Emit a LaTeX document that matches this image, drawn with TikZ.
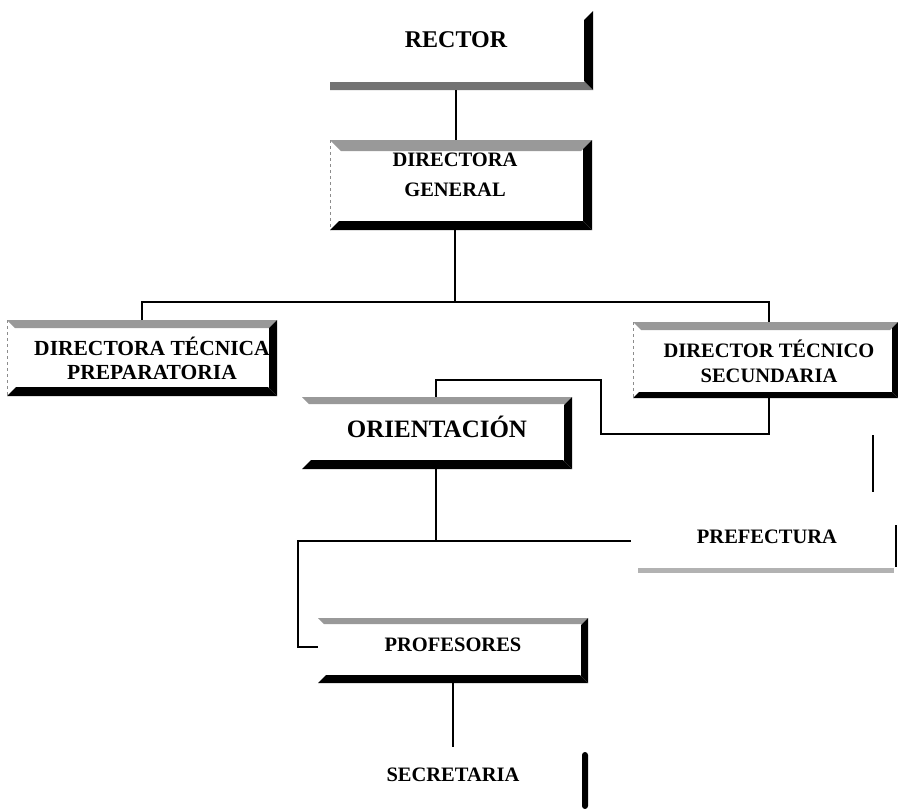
\documentclass[tikz,border=0pt]{standalone}
\usepackage{fontspec}
\setmainfont{Liberation Serif}
\newcommand{\bandtop}[2]{\fill[lightband] (#1.north west) -- (#1.north east) -- ([xshift=-#2pt,yshift=-#2pt]#1.north east) -- ([xshift=#2pt,yshift=-#2pt]#1.north west) -- cycle;}
\newcommand{\bandright}[2]{\fill[darkband] (#1.north east) -- (#1.south east) -- ([xshift=-#2pt,yshift=#2pt]#1.south east) -- ([xshift=-#2pt,yshift=-#2pt]#1.north east) -- cycle;}
\newcommand{\bandbottom}[2]{\fill[darkband] (#1.south west) -- (#1.south east) -- ([xshift=-#2pt,yshift=#2pt]#1.south east) -- ([xshift=#2pt,yshift=#2pt]#1.south west) -- cycle;}
\newcommand{\bandleft}[1]{\draw[leftedge] (#1.north west) -- (#1.south west);}
\begin{document}
\begin{tikzpicture}[x=1pt,y=-1pt,
  frame/.style={rectangle,inner sep=0pt,outer sep=0pt},
  lbl/.style={inner sep=0pt,font=\bfseries\fontsize{20.5}{26}\selectfont,align=center},
  lightband/.style={fill=black!40},
  darkband/.style={fill=black},
  leftedge/.style={draw=black!45,dashed,line width=0.8pt},
  conn/.style={draw=black,line width=1.3pt}]
\useasboundingbox (0,0) rectangle (898,809);
% boxes
\node[frame,minimum width=263,minimum height=79] (rector) at (461.5,50.5) {};
\node[frame,minimum width=262,minimum height=90] (dg) at (461,185) {};
\node[frame,minimum width=270,minimum height=76] (dtp) at (142,358) {};
\node[frame,minimum width=265,minimum height=76] (dts) at (765.5,360) {};
\node[frame,minimum width=270,minimum height=72] (ori) at (437,433) {};
\node[frame,minimum width=259,minimum height=68] (pref) at (767.5,539) {};
\node[frame,minimum width=270,minimum height=65] (prof) at (453,650.5) {};
\node[frame,minimum width=6,minimum height=57] (secbar) at (585,780.5) {};
% frames
\fill[black!55] (rector.south west) -- (rector.south east) -- ([xshift=-8pt,yshift=8pt]rector.south east) -- ([yshift=8pt]rector.south west) -- cycle;
\bandright{rector}{9}
\bandtop{dg}{11}\bandright{dg}{9}\bandbottom{dg}{9}\bandleft{dg}
\bandtop{dtp}{8}\bandright{dtp}{8}\bandbottom{dtp}{9}\bandleft{dtp}
\bandtop{dts}{8}\bandright{dts}{6}\bandbottom{dts}{6}\bandleft{dts}
\bandtop{ori}{7}\bandright{ori}{8}\bandbottom{ori}{9}
\fill[black!30] ([yshift=5pt]pref.south west) -- (pref.south west) -- ([xshift=-3pt]pref.south east) -- ([xshift=-3pt,yshift=5pt]pref.south east) -- cycle;
\fill[darkband] ([yshift=-20pt]pref.north east) rectangle ([xshift=-2pt,yshift=6pt]pref.south east);
\bandtop{prof}{6}\bandright{prof}{7}\bandbottom{prof}{8}
\fill[darkband,rounded corners=3pt] (secbar.north west) rectangle (secbar.south east);
% texts
\node[lbl,font=\bfseries\fontsize{24}{28}\selectfont] (rectort) at (456,40) {RECTOR};
\node[lbl,font=\bfseries\fontsize{20.5}{30}\selectfont] (dgt) at (455,175) {DIRECTORA\\GENERAL};
\node[lbl,font=\bfseries\fontsize{21.5}{24}\selectfont] (dtpt) at (152,358) {DIRECTORA TÉCNICA\\PREPARATORIA};
\node[lbl,font=\bfseries\fontsize{20.5}{25}\selectfont] (dtst) at (769,361) {DIRECTOR TÉCNICO\\SECUNDARIA};
\node[lbl,font=\bfseries\fontsize{25}{30}\selectfont] (orit) at (437,427) {ORIENTACIÓN};
\node[lbl] (preft) at (767,537) {PREFECTURA};
\node[lbl] (proft) at (453,645) {PROFESORES};
\node[lbl] (secrt) at (453,775) {SECRETARIA};
% connectors
\coordinate (bus) at (455,302);
\coordinate (j1) at (601,434);
\coordinate (j2) at (601,380);
\coordinate (j3) at (436,541);
\coordinate (j4) at (298,647);
\coordinate (v1) at (873,435);
\coordinate (v2) at (873,492);
\coordinate (s1) at (453,747);
\draw[conn] (rectort |- rector.south) -- (rectort |- dg.north);
\draw[conn] (dgt |- dg.south) -- (bus);
\draw[conn] (dtp.north) |- (dtst |- bus) -- (dtst |- dts.north);
\draw[conn] (dtst |- dts.south) |- (j1) -- (j2) -| (j3 |- ori.north);
\draw[conn] (j3 |- ori.south) -- (j3) -- ([xshift=-7pt]pref.west |- j3);
\draw[conn] (j3) -| (j4) -- (prof.west |- j4);
\draw[conn] (proft |- prof.south) -- (s1);
\draw[line width=1.2pt] (v1) -- (v2);
\end{tikzpicture}
\end{document}
